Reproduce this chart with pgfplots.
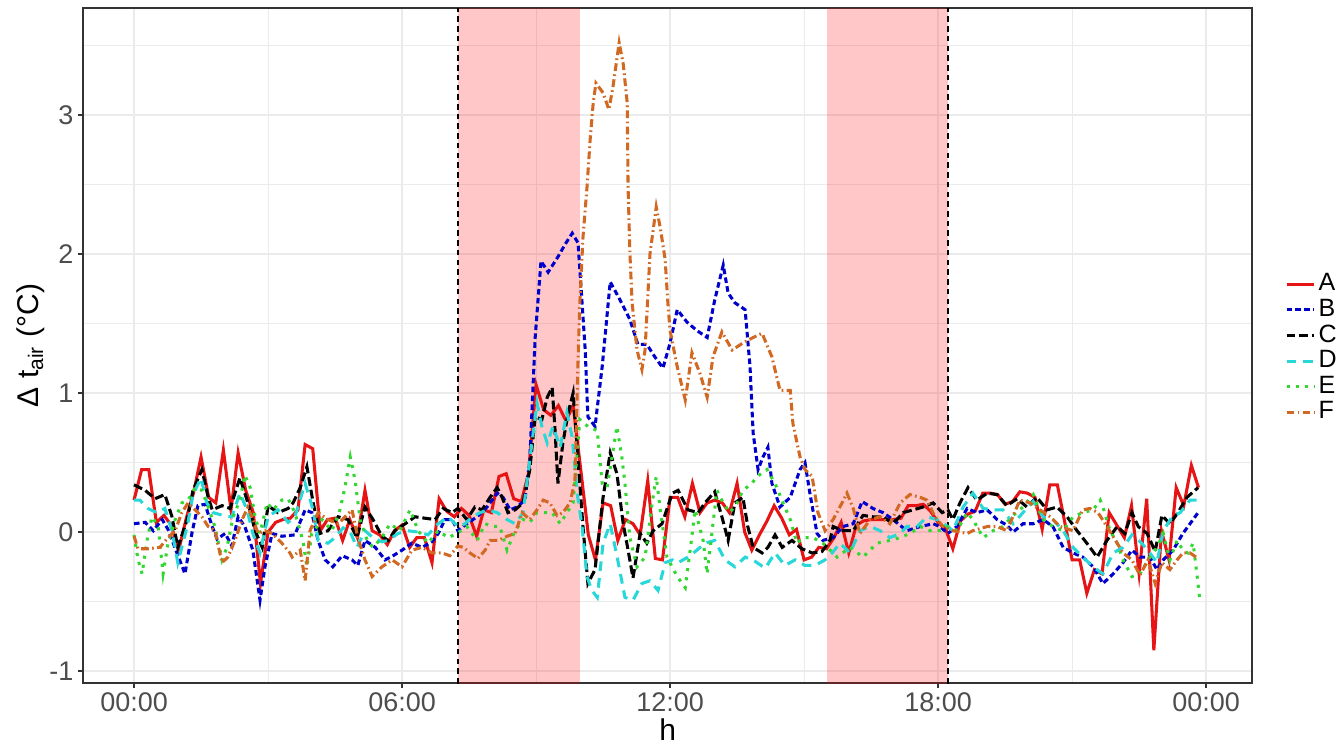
\documentclass[border=0pt]{standalone}
\usepackage{fontspec}
\setmainfont{Liberation Sans}
\usepackage{pgfplots}
\pgfplotsset{compat=1.18}
\definecolor{cA}{RGB}{230,20,20}
\definecolor{cB}{RGB}{0,0,205}
\definecolor{cC}{RGB}{0,0,0}
\definecolor{cD}{RGB}{40,215,215}
\definecolor{cE}{RGB}{50,215,50}
\definecolor{cF}{RGB}{210,105,35}
\definecolor{tickgray}{RGB}{77,77,77}
\definecolor{border}{RGB}{51,51,51}
\definecolor{gridgray}{RGB}{235,235,235}

\begin{document}
\begin{tikzpicture}
\useasboundingbox (-29.9pt,-21.6pt) rectangle (451.4pt,245.7pt);
\begin{axis}[
  scale only axis,
  width=420.5pt, height=242.8pt,
  at={(0,0)}, anchor=south west,
  xmin=-1.14, xmax=25.03,
  ymin=-1.086, ymax=3.77,
  xtick={0,6,12,18,24},
  xticklabels={00:00,06:00,12:00,18:00,00:00},
  minor xtick={3,9,15,21},
  ytick={-1,0,1,2,3},
  minor ytick={-0.5,0.5,1.5,2.5,3.5},
  grid=both,
  major grid style={draw=gridgray, line width=0.5pt},
  minor grid style={draw=gridgray, line width=0.25pt},
  axis line style={draw=border, line width=0.5pt},
  tick align=outside,
  major tick length=1.8pt,
  minor tick length=0pt,
  tick style={draw=border, line width=0.5pt},
  xtick pos=bottom, ytick pos=left,
  /pgf/number format/assume math mode=true,
  ticklabel style={font=\fontsize{9.7}{11}\selectfont, text=tickgray},
  xticklabel style={yshift=1.8pt},
  yticklabel style={xshift=1.8pt},
  xlabel={h},
  ylabel={Δ t\textsubscript{air} (°C)},
  label style={font=\fontsize{10.8}{12}\selectfont},
  xlabel style={at={(axis description cs:0.5,-0.069)}, anchor=center},
  ylabel style={at={(axis description cs:-0.045,0.5)}, anchor=center},
  legend style={at={(axis description cs:1.0277,0.496)}, anchor=west,
    draw=none, fill=none, inner sep=0pt, row sep=-0.5pt,
    font=\fontsize{9}{10}\selectfont,
    nodes={inner sep=1pt}},
  legend cell align=left,
  legend image code/.code={\path (0pt,0pt) -- (10pt,0pt); \draw[#1] (0pt,0pt) -- (8pt,0pt);},
  every axis plot/.append style={line width=1.1pt},
]
\fill[red, fill opacity=0.22] (axis cs:7.25,-2) rectangle (axis cs:9.98,5);
\fill[red, fill opacity=0.22] (axis cs:15.51,-2) rectangle (axis cs:18.22,5);
\draw[black, line width=0.6pt, dash pattern=on 2pt off 1.5pt] (axis cs:7.25,-2) -- (axis cs:7.25,5);
\draw[black, line width=0.6pt, dash pattern=on 2pt off 1.5pt] (axis cs:18.22,-2) -- (axis cs:18.22,5);

% A
\addplot[cA, solid] coordinates {
(0,0.23) (0.17,0.45) (0.33,0.45) (0.5,0.07) (0.67,0.12) (0.83,0.05)
(1,-0.13) (1.17,0.10) (1.33,0.28) (1.5,0.54) (1.67,0.25) (1.83,0.21)
(2,0.59) (2.17,0.16) (2.33,0.57) (2.5,0.30) (2.67,0.14) (2.83,-0.37)
(3,0.0) (3.17,0.07) (3.33,0.09) (3.5,0.10) (3.67,0.16) (3.83,0.63)
(4,0.60) (4.17,0.01) (4.33,0.09) (4.5,0.10) (4.67,-0.06) (4.83,0.09)
(5,-0.04) (5.17,0.30) (5.33,0.01) (5.5,-0.02) (5.67,-0.09) (5.83,0.01)
(6,0.05) (6.17,-0.11) (6.33,-0.04) (6.5,-0.04) (6.67,-0.22) (6.83,0.24)
(7,0.15) (7.17,0.11) (7.33,0.17) (7.5,0.12) (7.67,-0.03) (7.83,0.16)
(8,0.14) (8.17,0.40) (8.33,0.42) (8.5,0.24) (8.67,0.22) (8.83,0.42)
(9,1.06) (9.17,0.88) (9.33,0.84) (9.5,0.91) (9.67,0.80) (9.83,0.91)
(10,0.45) (10.17,-0.02) (10.33,-0.20) (10.5,0.21) (10.67,0.19) (10.83,-0.06)
(11,0.09) (11.17,0.06) (11.33,-0.02) (11.5,0.37) (11.67,-0.19) (11.83,-0.20)
(12,0.25) (12.17,0.25) (12.33,0.11) (12.5,0.35) (12.67,0.14) (12.83,0.21)
(13,0.23) (13.17,0.21) (13.33,0.14) (13.5,0.35) (13.67,0.0) (13.83,-0.13)
(14,-0.02) (14.17,0.08) (14.33,0.19) (14.5,0.10) (14.67,-0.02) (14.83,0.02)
(15,-0.20) (15.17,-0.18) (15.33,-0.11) (15.5,-0.12) (15.67,-0.04) (15.83,0.07)
(16,-0.15) (16.17,0.05) (16.33,0.08) (16.5,0.09) (16.67,0.09) (16.83,0.09)
(17,0.09) (17.17,0.10) (17.33,0.19) (17.5,0.19) (17.67,0.20) (17.83,0.15)
(18,0.07) (18.17,0.02) (18.33,-0.12) (18.5,0.08) (18.67,0.13) (18.83,0.15)
(19,0.28) (19.17,0.28) (19.33,0.27) (19.5,0.20) (19.67,0.22) (19.83,0.29)
(20,0.28) (20.17,0.25) (20.33,0.02) (20.5,0.34) (20.67,0.34) (20.83,0.08)
(21,-0.20) (21.17,-0.20) (21.33,-0.44) (21.5,-0.27) (21.67,-0.30) (21.83,0.14)
(22,0.05) (22.17,-0.04) (22.33,0.19) (22.5,-0.30) (22.67,0.24) (22.83,-0.85)
(23,0.01) (23.17,-0.20) (23.33,0.32) (23.5,0.19) (23.67,0.48) (23.83,0.32)
};
\addlegendentry{A}

% B
\addplot[cB, dash pattern=on 2pt off 1.2pt] coordinates {
(0,0.06) (0.25,0.07) (0.43,0.01) (0.63,0.09) (0.76,0.02) (0.96,-0.15) (1.14,-0.30)
(1.30,0.0) (1.43,0.19) (1.59,0.20) (1.75,0.04) (1.86,-0.05) (2.04,-0.01) (2.19,-0.10)
(2.33,0.11) (2.48,0.04) (2.66,-0.13) (2.82,-0.49) (2.93,-0.25) (3.09,-0.01) (3.31,-0.03)
(3.60,-0.02) (3.83,0.16) (3.98,0.14) (4.12,-0.06) (4.28,-0.20) (4.45,-0.25) (4.66,-0.17)
(4.88,-0.20) (5.01,-0.24) (5.17,-0.06) (5.40,-0.11) (5.62,-0.20) (5.80,-0.17) (6.00,-0.13)
(6.22,-0.08) (6.45,-0.11) (6.67,-0.07) (6.81,-0.01) (6.96,0.09) (7.12,0.09) (7.25,0.01)
(7.45,0.06) (7.68,0.11) (7.90,0.18) (8.13,0.28) (8.26,0.25) (8.42,0.16) (8.57,0.18)
(8.75,0.23) (8.86,0.52) (8.98,1.40) (9.11,1.95) (9.27,1.87) (9.49,1.98) (9.65,2.07)
(9.81,2.15) (9.94,2.08) (10.10,1.31) (10.16,0.83) (10.32,0.76) (10.48,1.19) (10.66,1.80)
(10.88,1.67) (11.10,1.53) (11.28,1.35) (11.48,1.35) (11.66,1.26) (11.84,1.18) (12.00,1.36)
(12.16,1.60) (12.38,1.51) (12.60,1.45) (12.83,1.40) (13.00,1.67) (13.19,1.92) (13.30,1.72)
(13.45,1.65) (13.68,1.60) (13.79,1.19) (13.86,0.71) (13.97,0.45) (14.08,0.54) (14.19,0.61)
(14.28,0.35) (14.46,0.18) (14.69,0.25) (14.91,0.45) (15.02,0.50) (15.13,0.28) (15.29,-0.01)
(15.42,-0.06) (15.65,-0.04) (15.87,0.04) (16.10,0.06) (16.30,0.22) (16.54,0.17) (16.77,0.14)
(16.99,0.09) (17.30,0.01) (17.60,0.04) (17.89,0.06) (18.04,0.04) (18.22,-0.01) (18.42,0.04)
(18.65,0.17) (18.87,0.14) (19.10,0.16) (19.32,0.09) (19.54,0.05) (19.68,0.0) (19.90,0.06)
(20.13,0.06) (20.35,0.09) (20.57,0.04) (20.80,-0.11) (21.02,-0.15) (21.24,-0.18) (21.47,-0.25)
(21.69,-0.37) (21.92,-0.30) (22.14,-0.22) (22.34,-0.13) (22.52,-0.18) (22.74,-0.18) (22.90,-0.27)
(23.04,-0.20) (23.26,-0.13) (23.48,-0.01) (23.64,0.06) (23.82,0.14)
};
\addlegendentry{B}

% C
\addplot[cC, dash pattern=on 3.2pt off 1.4pt] coordinates {
(0,0.34) (0.25,0.30) (0.47,0.24) (0.69,0.27) (0.85,0.11) (0.98,-0.11) (1.19,0.09)
(1.32,0.30) (1.52,0.45) (1.66,0.25) (1.75,0.16) (1.97,0.19) (2.15,0.17) (2.37,0.39)
(2.55,0.21) (2.71,0.01) (2.87,-0.11) (3.00,0.19) (3.22,0.14) (3.45,0.17) (3.56,0.21)
(3.72,0.32) (3.87,0.47) (4.01,0.21) (4.16,-0.01) (4.34,0.01) (4.57,0.11) (4.79,0.09)
(4.99,-0.04) (5.17,0.18) (5.35,0.09) (5.55,-0.03) (5.69,-0.06) (5.84,0.01) (6.07,0.06)
(6.29,0.11) (6.51,0.10) (6.74,0.09) (6.92,0.17) (7.12,0.14) (7.25,0.17) (7.45,0.09)
(7.63,0.18) (7.79,0.16) (7.97,0.25) (8.13,0.32) (8.24,0.25) (8.37,0.14) (8.53,0.16)
(8.71,0.21) (8.86,0.45) (8.98,0.83) (9.13,0.81) (9.25,0.97) (9.36,1.04) (9.42,0.76)
(9.49,0.35) (9.60,0.64) (9.72,0.86) (9.83,1.00) (9.94,0.52) (10.05,0.04) (10.16,-0.37)
(10.32,-0.27) (10.50,0.25) (10.66,0.57) (10.81,0.42) (10.95,0.06) (11.06,-0.13) (11.17,-0.33)
(11.33,-0.01) (11.48,-0.08) (11.62,0.01) (11.82,0.06) (12.05,0.28) (12.18,0.30) (12.40,0.16)
(12.63,0.14) (12.78,0.21) (13.00,0.29) (13.16,0.11) (13.30,-0.06) (13.45,0.21) (13.63,0.25)
(13.74,0.04) (13.86,-0.11) (14.06,-0.15) (14.19,-0.11) (14.35,-0.02) (14.51,-0.11) (14.73,-0.06)
(14.95,-0.12) (15.18,-0.15) (15.40,-0.14) (15.58,-0.06) (15.65,0.04) (15.87,0.01) (16.10,0.01)
(16.32,0.12) (16.54,0.11) (16.77,0.11) (16.99,0.06) (17.22,0.14) (17.44,0.16) (17.66,0.18)
(17.89,0.21) (18.09,0.14) (18.22,0.16) (18.33,0.09) (18.49,0.21) (18.67,0.32) (18.87,0.23)
(19.10,0.28) (19.32,0.27) (19.54,0.19) (19.77,0.24) (19.99,0.18) (20.21,0.25) (20.44,0.16)
(20.66,0.18) (20.89,0.11) (21.11,0.01) (21.33,-0.08) (21.56,-0.18) (21.78,-0.06) (22.01,0.04)
(22.18,-0.01) (22.34,0.14) (22.48,0.04) (22.68,-0.01) (22.86,-0.14) (23.01,0.12) (23.19,0.06)
(23.37,0.14) (23.57,0.25) (23.82,0.32)
};
\addlegendentry{C}

% D
\addplot[cD, dash pattern=on 3.5pt off 2.5pt] coordinates {
(0,0.23) (0.13,0.23) (0.31,0.17) (0.51,0.14) (0.69,0.17) (0.85,0.01) (0.98,-0.22)
(1.19,0.04) (1.32,0.27) (1.50,0.39) (1.63,0.21) (1.77,0.14) (1.99,0.12) (2.19,0.11)
(2.37,0.28) (2.53,0.16) (2.66,-0.01) (2.82,-0.15) (3.00,0.11) (3.22,0.16) (3.45,0.07)
(3.60,0.11) (3.83,0.35) (4.01,0.16) (4.12,-0.06) (4.34,-0.08) (4.50,-0.04) (4.68,0.03)
(4.84,0.0) (4.99,-0.11) (5.17,0.01) (5.35,-0.04) (5.55,-0.07) (5.69,-0.06) (5.91,-0.01)
(6.13,0.01) (6.36,0.0) (6.58,-0.02) (6.81,0.06) (7.03,0.11) (7.25,0.04) (7.41,0.06)
(7.57,0.11) (7.75,0.14) (7.92,0.16) (8.13,0.14) (8.35,0.09) (8.53,0.06) (8.71,0.14)
(8.86,0.52) (9.02,0.93) (9.13,0.76) (9.25,0.64) (9.38,0.76) (9.54,0.61) (9.69,0.86)
(9.81,0.68) (9.92,0.28) (10.03,0.04) (10.14,-0.32) (10.25,-0.42) (10.37,-0.47) (10.50,-0.08)
(10.66,0.06) (10.84,-0.22) (10.99,-0.47) (11.17,-0.49) (11.37,-0.37) (11.55,-0.35) (11.73,-0.42)
(11.89,-0.22) (12.05,-0.20) (12.18,-0.22) (12.40,-0.18) (12.60,-0.13) (12.78,-0.08) (13.00,-0.06)
(13.23,-0.20) (13.45,-0.25) (13.68,-0.18) (13.90,-0.21) (14.13,-0.26) (14.35,-0.15) (14.57,-0.24)
(14.80,-0.20) (15.02,-0.24) (15.24,-0.24) (15.47,-0.20) (15.63,-0.15) (15.80,-0.08) (16.03,-0.15)
(16.25,0.01) (16.48,0.04) (16.70,0.01) (16.92,-0.04) (17.15,-0.01) (17.30,0.04) (17.53,0.04)
(17.75,0.11) (17.98,0.09) (18.22,0.04) (18.33,0.01) (18.56,0.18) (18.78,0.28) (19.01,0.17)
(19.23,0.16) (19.45,0.16) (19.68,0.06) (19.90,0.14) (20.13,0.22) (20.35,0.11) (20.57,0.09)
(20.80,0.01) (21.02,-0.11) (21.24,-0.18) (21.47,-0.25) (21.69,-0.30) (21.92,-0.15) (22.14,-0.11)
(22.34,-0.02) (22.56,-0.08) (22.74,-0.15) (22.90,-0.22) (23.04,0.01) (23.24,0.11) (23.42,0.14)
(23.64,0.23) (23.82,0.23)
};
\addlegendentry{D}

% E
\addplot[cE, dash pattern=on 1.1pt off 2.2pt] coordinates {
(0,-0.02) (0.09,-0.20) (0.18,-0.30) (0.29,-0.06) (0.40,0.11) (0.54,0.04) (0.65,-0.30)
(0.76,-0.08) (0.92,0.09) (1.07,0.21) (1.21,0.23) (1.37,0.32) (1.52,0.30) (1.66,0.18)
(1.81,0.04) (1.97,-0.20) (2.08,-0.11) (2.22,0.11) (2.37,0.23) (2.48,0.41) (2.60,0.32)
(2.71,0.11) (2.82,-0.01) (2.98,0.21) (3.11,0.16) (3.31,0.23) (3.45,0.24) (3.60,0.14)
(3.78,-0.06) (3.87,-0.25) (3.98,-0.01) (4.21,0.09) (4.43,0.01) (4.61,0.16) (4.72,0.32)
(4.84,0.54) (4.95,0.37) (5.06,0.09) (5.22,-0.06) (5.35,-0.11) (5.55,-0.04) (5.73,0.06)
(5.95,0.01) (6.18,0.16) (6.36,0.01) (6.58,-0.08) (6.81,0.01) (7.03,-0.04) (7.23,-0.01)
(7.45,0.04) (7.68,-0.06) (7.86,0.06) (8.04,0.04) (8.19,0.04) (8.35,-0.13) (8.53,0.01)
(8.71,0.09) (8.86,0.07) (9.02,0.14) (9.16,0.14) (9.36,0.14) (9.54,0.06) (9.69,0.14)
(9.83,0.21) (9.98,0.81) (10.16,0.76) (10.37,0.73) (10.48,0.35) (10.59,0.32) (10.70,0.54)
(10.81,0.76) (10.92,0.54) (10.99,0.35) (11.10,-0.04) (11.26,-0.25) (11.44,-0.18) (11.60,0.21)
(11.69,0.40) (11.78,0.16) (11.93,-0.18) (12.16,-0.32) (12.34,-0.40) (12.45,-0.13) (12.56,0.16)
(12.74,-0.06) (12.83,-0.30) (12.96,0.06) (13.05,0.30) (13.19,0.21) (13.34,0.14) (13.50,0.21)
(13.63,0.30) (13.83,0.35) (13.95,0.40) (14.17,0.45) (14.35,0.35) (14.53,0.21) (14.69,0.09)
(14.84,-0.08) (14.98,-0.04) (15.20,-0.04) (15.42,-0.08) (15.65,-0.15) (15.74,-0.18) (16.03,-0.11)
(16.32,-0.18) (16.63,-0.08) (16.92,-0.06) (17.15,-0.04) (17.37,-0.01) (17.60,0.04) (17.82,0.01)
(18.04,0.01) (18.22,0.04) (18.42,0.01) (18.65,0.14) (18.78,0.09) (19.01,-0.04) (19.23,0.01)
(19.45,0.04) (19.68,0.12) (19.90,0.18) (20.13,0.27) (20.35,0.09) (20.57,0.04) (20.80,0.01)
(21.02,0.11) (21.24,0.14) (21.47,0.16) (21.63,0.23) (21.69,0.18) (21.85,0.01) (22.01,-0.08)
(22.14,-0.20) (22.34,-0.32) (22.52,-0.30) (22.70,-0.20) (22.90,-0.11) (23.04,-0.01) (23.19,-0.20)
(23.35,-0.06) (23.48,-0.13) (23.59,-0.15) (23.71,-0.08) (23.80,-0.32) (23.86,-0.49)
};
\addlegendentry{E}

% F
\addplot[cF, dash pattern=on 2.8pt off 1.2pt on 0.6pt off 1.2pt] coordinates {
(0,-0.03) (0.09,-0.12) (0.31,-0.12) (0.58,-0.11) (0.76,-0.04) (0.92,0.01) (1.07,0.14)
(1.21,0.21) (1.37,0.16) (1.52,0.11) (1.66,0.04) (1.81,0.01) (1.97,-0.22) (2.10,-0.18)
(2.26,-0.06) (2.42,0.09) (2.55,0.18) (2.66,0.09) (2.78,-0.01) (2.93,0.01) (3.09,-0.01)
(3.31,-0.08) (3.49,-0.15) (3.54,-0.18) (3.72,-0.13) (3.83,-0.35) (3.94,0.01) (4.12,0.14)
(4.34,0.09) (4.57,0.06) (4.88,0.16) (5.01,-0.04) (5.17,-0.20) (5.33,-0.32) (5.55,-0.25)
(5.78,-0.20) (6.00,-0.25) (6.22,-0.13) (6.45,-0.11) (6.67,-0.15) (6.89,-0.15) (7.07,-0.17)
(7.25,-0.10) (7.37,-0.11) (7.52,-0.15) (7.70,-0.19) (7.86,-0.13) (7.97,-0.06) (8.15,-0.06)
(8.35,-0.03) (8.53,-0.01) (8.69,0.14) (8.86,0.09) (9.02,0.16) (9.16,0.23) (9.31,0.21)
(9.47,0.12) (9.60,0.14) (9.76,0.21) (9.87,0.37) (9.94,1.24) (9.98,1.65) (10.05,2.12)
(10.14,2.48) (10.21,2.82) (10.28,3.09) (10.34,3.23) (10.50,3.16) (10.63,3.04) (10.72,3.20)
(10.86,3.52) (10.95,3.37) (11.04,3.09) (11.06,2.48) (11.10,2.01) (11.15,1.65) (11.26,1.31)
(11.37,1.17) (11.44,1.31) (11.55,2.00) (11.69,2.34) (11.78,2.19) (11.89,1.96) (11.95,1.65)
(12.00,1.45) (12.16,1.19) (12.34,0.95) (12.49,1.29) (12.67,1.14) (12.83,0.97) (12.96,1.26)
(13.16,1.44) (13.39,1.31) (13.63,1.36) (13.86,1.40) (14.06,1.43) (14.28,1.26) (14.46,1.02)
(14.69,1.02) (14.75,0.78) (14.91,0.54) (15.02,0.45) (15.18,0.40) (15.31,0.14) (15.47,0.01)
(15.65,0.09) (15.85,0.21) (15.96,0.28) (16.10,0.17) (16.25,-0.01) (16.48,0.09) (16.70,0.11)
(16.92,0.06) (17.15,0.21) (17.37,0.27) (17.60,0.25) (17.75,0.23) (17.93,0.11) (18.11,0.04)
(18.33,0.01) (18.65,-0.01) (18.78,0.01) (19.10,0.04) (19.32,0.04) (19.54,0.01) (19.83,0.23)
(20.06,0.21) (20.28,0.16) (20.51,0.11) (20.73,0.04) (21.02,0.01) (21.24,0.16) (21.40,0.17)
(21.58,0.14) (21.78,0.04) (22.01,-0.08) (22.14,-0.15) (22.34,-0.20) (22.52,-0.31) (22.70,-0.20)
(22.86,-0.37) (23.01,-0.22) (23.19,-0.27) (23.35,-0.20) (23.48,-0.15) (23.64,-0.15) (23.82,-0.19)
};
\addlegendentry{F}
\end{axis}
\end{tikzpicture}
\end{document}
